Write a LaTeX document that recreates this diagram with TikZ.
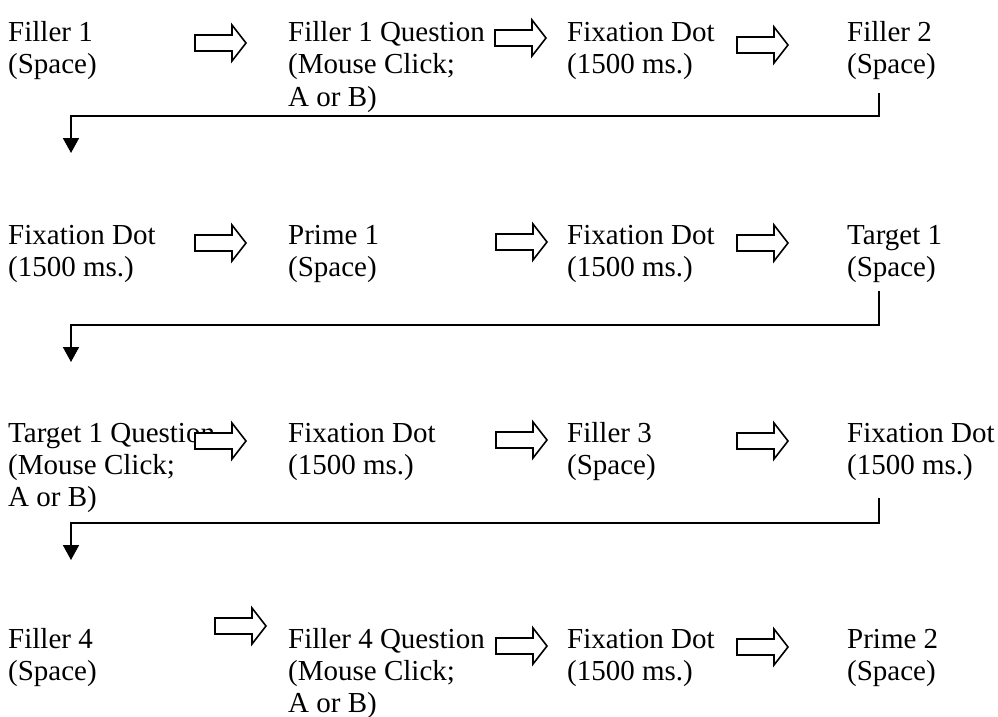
\documentclass[tikz,border=0pt]{standalone}
\usepackage{fontspec}
\setmainfont{Liberation Serif}
\usetikzlibrary{arrows.meta}

% top-aligned stack of lines, so that base is the first line
\newcommand{\cellstack}[1]{\begin{tabular}[t]{@{}l@{}}#1\end{tabular}}

\tikzset{
  lbl/.style={anchor=base west, inner sep=0pt,
    font=\fontsize{29}{32}\selectfont},
  flowline/.style={line width=1.8pt, -{Triangle[length=15pt,width=16pt]}},
  blockarr/.pic={
    \draw[line width=1.6pt, fill=white, line join=miter]
      (0,-8) -- (37,-8) -- (37,-18) -- (51,0) -- (37,18) -- (37,8) -- (0,8) -- cycle;
  }
}

\begin{document}
\begin{tikzpicture}[x=1pt,y=-1pt]
  \useasboundingbox (0,0) rectangle (998,717);
  % row 1
  \node[lbl] (fill1)  at (8,42)   {\cellstack{Filler 1\\(Space)}};
  \node[lbl] (fill1q) at (288,42) {\cellstack{Filler 1 Question\\(Mouse Click;\\A or B)}};
  \node[lbl] (fix1)   at (567,42) {\cellstack{Fixation Dot\\(1500 ms.)}};
  \node[lbl] (fill2)  at (847,42) {\cellstack{Filler 2\\(Space)}};
  \pic at (195,43) {blockarr};
  \pic at (495,38) {blockarr};
  \pic at (737,45) {blockarr};
  % row 2
  \node[lbl] (fix2)   at (8,244)   {\cellstack{Fixation Dot\\(1500 ms.)}};
  \node[lbl] (prime1) at (288,244) {\cellstack{Prime 1\\(Space)}};
  \node[lbl] (fix3)   at (567,244) {\cellstack{Fixation Dot\\(1500 ms.)}};
  \node[lbl] (tgt1)   at (847,244) {\cellstack{Target 1\\(Space)}};
  \pic at (195,243) {blockarr};
  \pic at (496,242) {blockarr};
  \pic at (737,243) {blockarr};
  % row 3
  \node[lbl] (tgt1q) at (8,442)   {\cellstack{Target 1 Question\\(Mouse Click;\\A or B)}};
  \node[lbl] (fix4)  at (288,442) {\cellstack{Fixation Dot\\(1500 ms.)}};
  \node[lbl] (fill3) at (567,442) {\cellstack{Filler 3\\(Space)}};
  \node[lbl] (fix5)  at (847,442) {\cellstack{Fixation Dot\\(1500 ms.)}};
  \pic at (195,441) {blockarr};
  \pic at (496,440) {blockarr};
  \pic at (737,441) {blockarr};
  % row 4
  \node[lbl] (fill4)  at (8,648)   {\cellstack{Filler 4\\(Space)}};
  \node[lbl] (fill4q) at (288,648) {\cellstack{Filler 4 Question\\(Mouse Click;\\A or B)}};
  \node[lbl] (fix6)   at (567,648) {\cellstack{Fixation Dot\\(1500 ms.)}};
  \node[lbl] (prime2) at (847,648) {\cellstack{Prime 2\\(Space)}};
  \pic at (215,626) {blockarr};
  \pic at (496,646) {blockarr};
  \pic at (737,647) {blockarr};
  % line breaks between rows
  \coordinate (brk1a) at (879,93);
  \coordinate (brk1b) at (71,153);
  \coordinate (brk2a) at (879,291);
  \coordinate (brk2b) at (71,362);
  \coordinate (brk3a) at (879,498);
  \coordinate (brk3b) at (71,560);
  \draw[flowline] (brk1a) -- ++(0,23) -| (brk1b);
  \draw[flowline] (brk2a) -- ++(0,34) -| (brk2b);
  \draw[flowline] (brk3a) -- ++(0,25) -| (brk3b);
\end{tikzpicture}
\end{document}
